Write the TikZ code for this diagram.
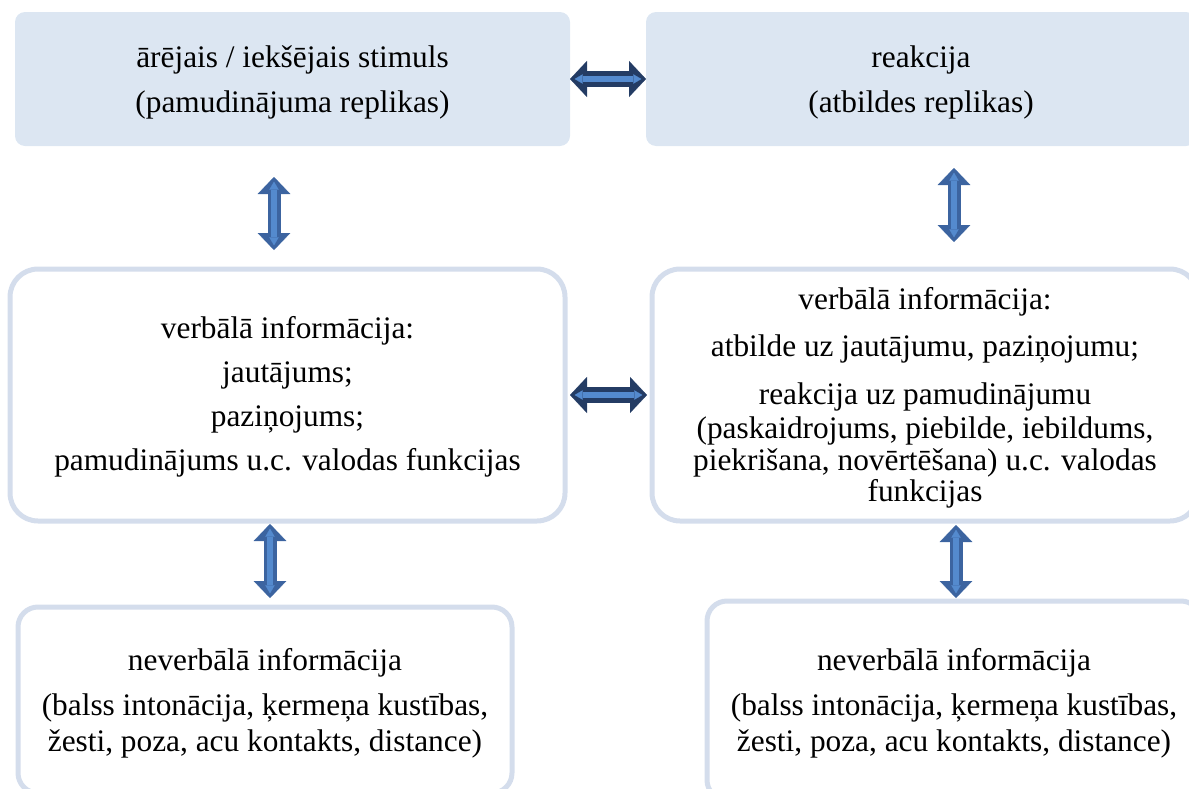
\documentclass[tikz,border=0pt]{standalone}
\usepackage{fontspec}
\setmainfont{Liberation Serif}
\usetikzlibrary{arrows.meta,calc}
\definecolor{topfill}{RGB}{220,230,242}
\definecolor{boxline}{RGB}{212,221,236}
\definecolor{harrowdark}{RGB}{36,60,100}
\definecolor{varrowdark}{RGB}{60,100,160}
\definecolor{arrowlight}{RGB}{84,138,206}
\begin{document}
\begin{tikzpicture}[x=0.75pt,y=-0.75pt,
  every node/.style={font=\fontsize{23.5pt}{23.5pt}\selectfont, align=center,
    inner sep=0pt, outer sep=0pt},
  boxtext/.style={yshift=-2.25pt},
  topbox/.style={fill=topfill, rounded corners=7.5pt},
  midbox/.style={draw=boxline, line width=3.75pt, fill=white, rounded corners=21pt},
  lowbox/.style={draw=boxline, line width=3.75pt, fill=white, rounded corners=15pt},
  harrow/.style={draw=harrowdark, line width=12pt,
    {Triangle[length=12.75pt,width=27pt,line width=0.1pt]}-{Triangle[length=12.75pt,width=27pt,line width=0.1pt]}},
  varrow/.style={draw=varrowdark, line width=9.75pt,
    {Triangle[length=12.75pt,width=24.5pt,line width=0.1pt]}-{Triangle[length=12.75pt,width=24.5pt,line width=0.1pt]}},
  inner/.style={draw=arrowlight, line width=4pt,
    {Triangle[length=6pt,width=7pt,line width=0.1pt]}-{Triangle[length=6pt,width=7pt,line width=0.1pt]}},
]
\useasboundingbox (0,0) rectangle (1189,789);
\clip (0,0) rectangle (1189,789);

% upper row: stimulus and reaction
\node[topbox, minimum width=555*0.75pt, minimum height=134*0.75pt,
  label={[boxtext]center:{ārējais / iekšējais stimuls\\[10.25pt](pamudinājuma replikas)}}]
  (tl) at (292.5,79) {};
\node[topbox, minimum width=550*0.75pt, minimum height=134*0.75pt,
  label={[boxtext]center:{reakcija\\[10.25pt](atbildes replikas)}}]
  (tr) at (921,79) {};

% middle row: verbal information
\node[midbox, minimum width=555*0.75pt, minimum height=252*0.75pt,
  label={[boxtext, yshift=0.75pt]center:{verbālā informācija:\\[9.5pt]jautājums;\\[9.5pt]paziņojums;\\[9.5pt]pamudinājums u.c. valodas funkcijas}}]
  (ml) at (287.5,395) {};
\node[midbox, minimum width=546*0.75pt, minimum height=252*0.75pt,
  label={[boxtext]center:{verbālā informācija:\\[11.75pt]atbilde uz jautājumu, paziņojumu;\\[12.5pt]reakcija uz pamudinājumu\\[2pt](paskaidrojums, piebilde, iebildums,\\[0.5pt]piekrišana, novērtēšana) u.c. valodas\\funkcijas}}]
  (mr) at (925,395) {};

% lower row: non-verbal information
\node[lowbox, minimum width=494*0.75pt, minimum height=186*0.75pt,
  label={[boxtext]center:{neverbālā informācija\\[10.25pt](balss intonācija, ķermeņa kustības,\\[3.5pt]žesti, poza, acu kontakts, distance)}}]
  (bl) at (265,700) {};
\node[lowbox, minimum width=494*0.75pt, minimum height=199*0.75pt,
  label={[boxtext]center:{neverbālā informācija\\[10.25pt](balss intonācija, ķermeņa kustības,\\[3.5pt]žesti, poza, acu kontakts, distance)}}]
  (br) at (954,700.5) {};

% vertical positions of the column arrows
\coordinate (v1) at (274,0);
\coordinate (v2) at (954,0);
\coordinate (v3) at (270,0);
\coordinate (v4) at (956,0);

% horizontal double arrows
\draw[harrow] (tl.east) -- (tr.west);
\draw[inner, shorten <=3.5pt, shorten >=3.5pt] (tl.east) -- (tr.west);
\draw[harrow, shorten <=3.75pt, shorten >=3.75pt] (ml.east) -- (mr.west);
\draw[inner, shorten <=7.25pt, shorten >=7.25pt] (ml.east) -- (mr.west);

% vertical double arrows
\draw[varrow, shorten <=23.25pt, shorten >=14.25pt] (tl.south -| v1) -- (ml.north -| v1);
\draw[inner, shorten <=26.75pt, shorten >=17.75pt] (tl.south -| v1) -- (ml.north -| v1);
\draw[varrow, shorten <=16.5pt, shorten >=20.25pt] (tr.south -| v2) -- (mr.north -| v2);
\draw[inner, shorten <=20pt, shorten >=23.75pt] (tr.south -| v2) -- (mr.north -| v2);
\draw[varrow, shorten <=2.25pt, shorten >=6.75pt] (ml.south -| v3) -- (bl.north -| v3);
\draw[inner, shorten <=5.75pt, shorten >=10.25pt] (ml.south -| v3) -- (bl.north -| v3);
\draw[varrow, shorten <=3pt, shorten >=2.25pt] (mr.south -| v4) -- (br.north -| v4);
\draw[inner, shorten <=6.5pt, shorten >=5.75pt] (mr.south -| v4) -- (br.north -| v4);
\end{tikzpicture}
\end{document}
